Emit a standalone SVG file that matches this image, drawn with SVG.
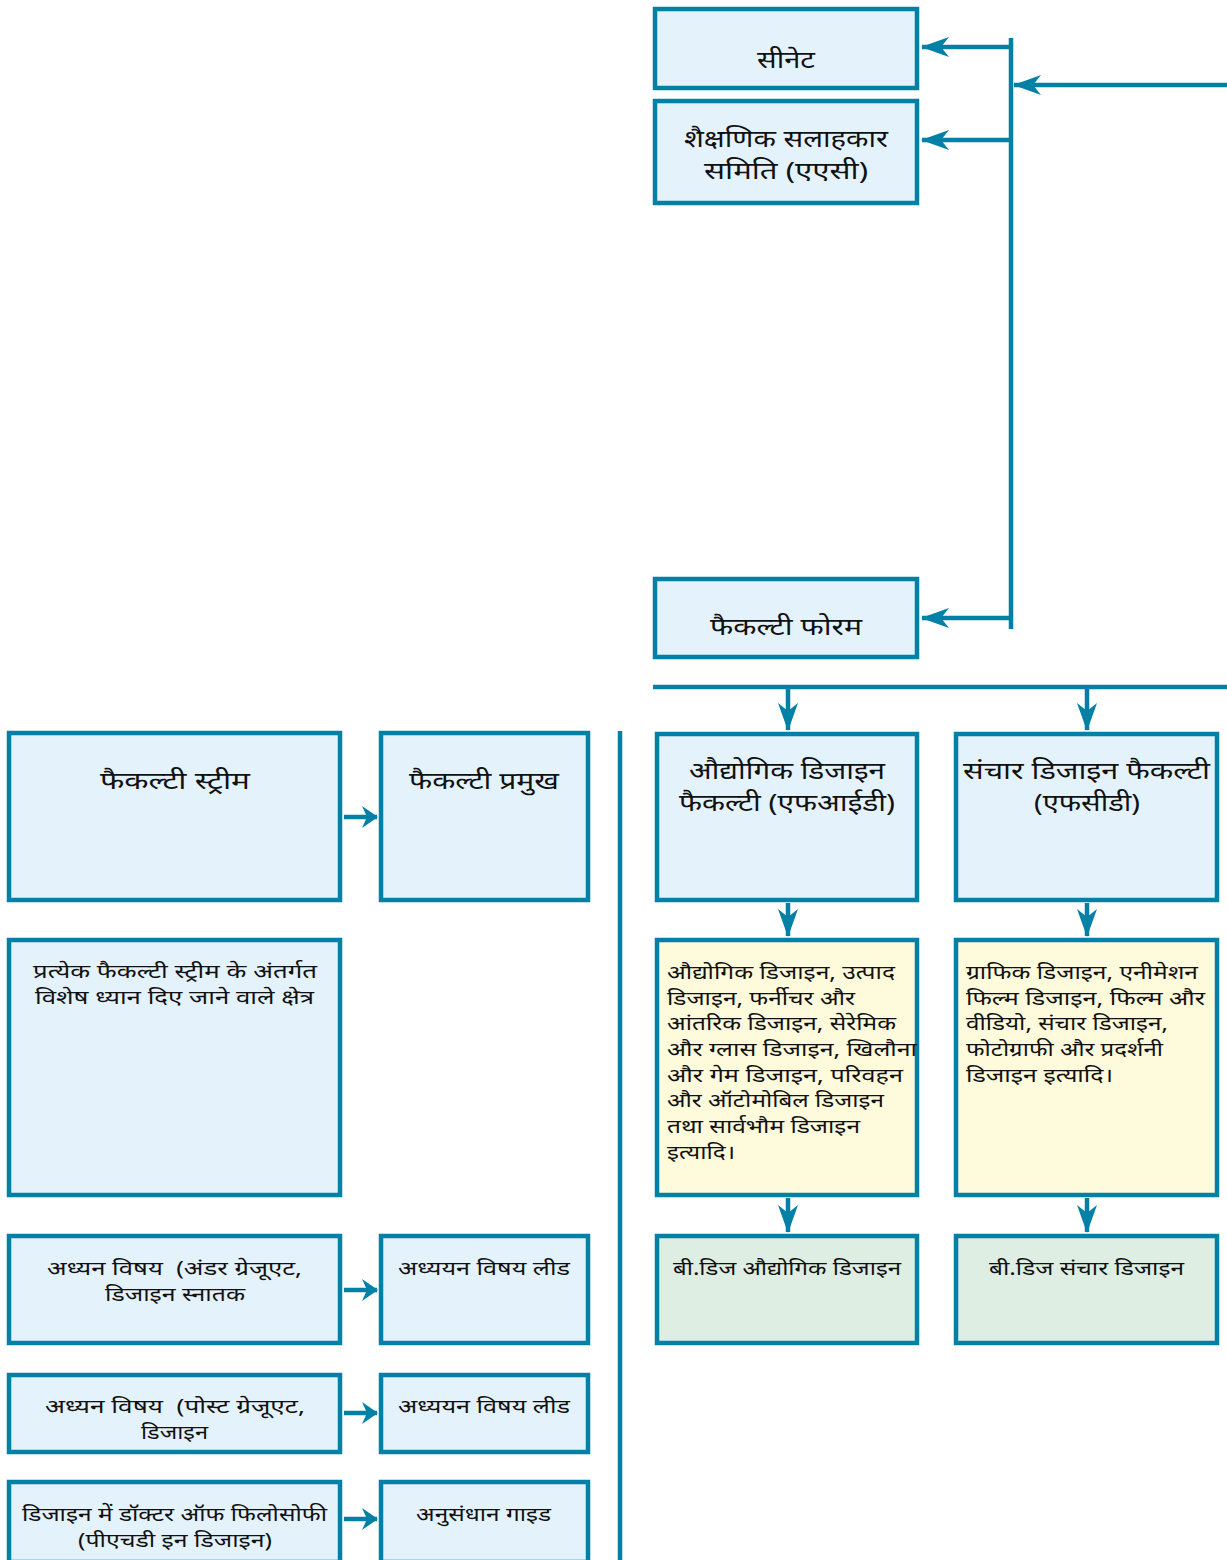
<svg xmlns="http://www.w3.org/2000/svg" width="1227" height="1560" viewBox="0 0 1227 1560">
<style>
.box{fill:#e4f2fc;stroke:#0380a6;stroke-width:4.5}
.yel{fill:#fefadc;stroke:#0380a6;stroke-width:4.5}
.grn{fill:#deeee2;stroke:#0380a6;stroke-width:4.5}
.ln{stroke:#0380a6;stroke-width:4.5;fill:none}
.t{font-family:"Noto Sans","Noto Sans Devanagari","Lohit Devanagari","FreeSans",sans-serif;fill:#111}
.h{font-size:24px;text-anchor:middle}
.s{font-size:19.5px}
.m{font-size:19.5px;text-anchor:middle}
</style>
<defs>
<marker id="ah" markerUnits="userSpaceOnUse" viewBox="0 0 28 20" refX="27" refY="10" markerWidth="28" markerHeight="20" orient="auto">
<path d="M0,0 L28,10 L0,20 L8,10 z" fill="#0380a6"/>
</marker>
<marker id="as" markerUnits="userSpaceOnUse" viewBox="0 0 16 22" refX="15" refY="11" markerWidth="16" markerHeight="22" orient="auto">
<path d="M0,0 L16,11 L0,22 L5,11 z" fill="#0380a6"/>
</marker>
</defs>

<g id="connectors">
<line class="ln" x1="1011" y1="38" x2="1011" y2="629"/>
<line class="ln" x1="1227" y1="85" x2="1014" y2="85" marker-end="url(#ah)"/>
<line class="ln" x1="1011" y1="47" x2="922" y2="47" marker-end="url(#ah)"/>
<line class="ln" x1="1011" y1="140" x2="922" y2="140" marker-end="url(#ah)"/>
<line class="ln" x1="1011" y1="618" x2="922" y2="618" marker-end="url(#ah)"/>
<line class="ln" x1="653" y1="687" x2="1227" y2="687"/>
<line class="ln" x1="788" y1="687" x2="788" y2="730" marker-end="url(#ah)"/>
<line class="ln" x1="1087" y1="687" x2="1087" y2="730" marker-end="url(#ah)"/>
<line class="ln" x1="788" y1="903" x2="788" y2="936" marker-end="url(#ah)"/>
<line class="ln" x1="1087" y1="903" x2="1087" y2="936" marker-end="url(#ah)"/>
<line class="ln" x1="788" y1="1198" x2="788" y2="1232" marker-end="url(#ah)"/>
<line class="ln" x1="1087" y1="1198" x2="1087" y2="1232" marker-end="url(#ah)"/>
<line class="ln" x1="620" y1="731" x2="620" y2="1560"/>
<line class="ln" x1="344" y1="817" x2="377" y2="817" marker-end="url(#as)"/>
<line class="ln" x1="344" y1="1290" x2="377" y2="1290" marker-end="url(#as)"/>
<line class="ln" x1="344" y1="1413" x2="377" y2="1413" marker-end="url(#as)"/>
<line class="ln" x1="344" y1="1519" x2="377" y2="1519" marker-end="url(#as)"/>
</g>

<g id="senate">
<rect class="box" x="655" y="9" width="262" height="79"/>
<text class="t h" x="786" y="68" textLength="58" lengthAdjust="spacingAndGlyphs">सीनेट</text>
</g>
<g id="aac">
<rect class="box" x="655" y="101" width="262" height="102"/>
<text class="t h" x="786" y="147" textLength="204" lengthAdjust="spacingAndGlyphs">शैक्षणिक सलाहकार</text>
<text class="t h" x="786" y="179" textLength="164" lengthAdjust="spacingAndGlyphs">समिति (एएसी)</text>
</g>
<g id="faculty-forum">
<rect class="box" x="655" y="579" width="262" height="78"/>
<text class="t h" x="786" y="635" textLength="152" lengthAdjust="spacingAndGlyphs">फैकल्टी फोरम</text>
</g>

<g id="fid">
<rect class="box" x="657" y="734" width="260" height="166"/>
<text class="t h" x="787" y="779" textLength="196" lengthAdjust="spacingAndGlyphs">औद्योगिक डिजाइन</text>
<text class="t h" x="787" y="811" textLength="216" lengthAdjust="spacingAndGlyphs">फैकल्टी (एफआईडी)</text>
</g>
<g id="fcd">
<rect class="box" x="956" y="734" width="261" height="166"/>
<text class="t h" x="1086.5" y="779" textLength="247" lengthAdjust="spacingAndGlyphs">संचार डिजाइन फैकल्टी</text>
<text class="t h" x="1087" y="811" textLength="106" lengthAdjust="spacingAndGlyphs">(एफसीडी)</text>
</g>

<g id="fid-areas">
<rect class="yel" x="657" y="940" width="260" height="255"/>
<text class="t s" x="667" y="979" textLength="228" lengthAdjust="spacingAndGlyphs">औद्योगिक डिजाइन, उत्पाद</text>
<text class="t s" x="667" y="1005" textLength="188" lengthAdjust="spacingAndGlyphs">डिजाइन, फर्नीचर और</text>
<text class="t s" x="667" y="1030" textLength="229" lengthAdjust="spacingAndGlyphs">आंतरिक डिजाइन, सेरेमिक</text>
<text class="t s" x="667" y="1056" textLength="250" lengthAdjust="spacingAndGlyphs">और ग्लास डिजाइन, खिलौना</text>
<text class="t s" x="667" y="1082" textLength="236" lengthAdjust="spacingAndGlyphs">और गेम डिजाइन, परिवहन</text>
<text class="t s" x="667" y="1107" textLength="217" lengthAdjust="spacingAndGlyphs">और ऑटोमोबिल डिजाइन</text>
<text class="t s" x="667" y="1133" textLength="193" lengthAdjust="spacingAndGlyphs">तथा सार्वभौम डिजाइन</text>
<text class="t s" x="667" y="1159" textLength="68" lengthAdjust="spacingAndGlyphs">इत्यादि।</text>
</g>
<g id="fcd-areas">
<rect class="yel" x="956" y="940" width="261" height="255"/>
<text class="t s" x="966" y="979" textLength="232" lengthAdjust="spacingAndGlyphs">ग्राफिक डिजाइन, एनीमेशन</text>
<text class="t s" x="966" y="1005" textLength="239" lengthAdjust="spacingAndGlyphs">फिल्म डिजाइन, फिल्म और</text>
<text class="t s" x="966" y="1030" textLength="202" lengthAdjust="spacingAndGlyphs">वीडियो, संचार डिजाइन,</text>
<text class="t s" x="966" y="1056" textLength="197" lengthAdjust="spacingAndGlyphs">फोटोग्राफी और प्रदर्शनी</text>
<text class="t s" x="966" y="1082" textLength="147" lengthAdjust="spacingAndGlyphs">डिजाइन इत्यादि।</text>
</g>

<g id="bdes-id">
<rect class="grn" x="657" y="1236" width="260" height="107"/>
<text class="t m" x="787" y="1275" textLength="228" lengthAdjust="spacingAndGlyphs">बी.डिज औद्योगिक डिजाइन</text>
</g>
<g id="bdes-cd">
<rect class="grn" x="956" y="1236" width="261" height="107"/>
<text class="t m" x="1086.5" y="1275" textLength="195" lengthAdjust="spacingAndGlyphs">बी.डिज संचार डिजाइन</text>
</g>

<g id="faculty-stream">
<rect class="box" x="9" y="733" width="331" height="167"/>
<text class="t h" x="175" y="789" textLength="150" lengthAdjust="spacingAndGlyphs">फैकल्टी स्ट्रीम</text>
</g>
<g id="faculty-head">
<rect class="box" x="381" y="733" width="207" height="167"/>
<text class="t h" x="484" y="789" textLength="150" lengthAdjust="spacingAndGlyphs">फैकल्टी प्रमुख</text>
</g>
<g id="focus-areas">
<rect class="box" x="9" y="940" width="331" height="255"/>
<text class="t m" x="175" y="978" textLength="284" lengthAdjust="spacingAndGlyphs">प्रत्येक फैकल्टी स्ट्रीम के अंतर्गत</text>
<text class="t m" x="174.5" y="1004" textLength="279" lengthAdjust="spacingAndGlyphs">विशेष ध्यान दिए जाने वाले क्षेत्र</text>
</g>
<g id="ug">
<rect class="box" x="9" y="1236" width="331" height="107"/>
<text class="t m" x="174.5" y="1275" textLength="255" lengthAdjust="spacingAndGlyphs" xml:space="preserve">अध्यन विषय  (अंडर ग्रेजूएट,</text>
<text class="t m" x="175" y="1301" textLength="140" lengthAdjust="spacingAndGlyphs">डिजाइन स्नातक</text>
</g>
<g id="ug-lead">
<rect class="box" x="381" y="1236" width="207" height="107"/>
<text class="t m" x="484" y="1275" textLength="172" lengthAdjust="spacingAndGlyphs">अध्ययन विषय लीड</text>
</g>
<g id="pg">
<rect class="box" x="9" y="1375" width="331" height="77"/>
<text class="t m" x="175" y="1413" textLength="260" lengthAdjust="spacingAndGlyphs" xml:space="preserve">अध्यन विषय  (पोस्ट ग्रेजूएट,</text>
<text class="t m" x="174.5" y="1439" textLength="67" lengthAdjust="spacingAndGlyphs">डिजाइन</text>
</g>
<g id="pg-lead">
<rect class="box" x="381" y="1375" width="207" height="77"/>
<text class="t m" x="484" y="1413" textLength="172" lengthAdjust="spacingAndGlyphs">अध्ययन विषय लीड</text>
</g>
<g id="phd">
<rect class="box" x="9" y="1482" width="331" height="80"/>
<text class="t m" x="174.5" y="1521" textLength="305" lengthAdjust="spacingAndGlyphs">डिजाइन में डॉक्टर ऑफ फिलोसोफी</text>
<text class="t m" x="175" y="1547" textLength="194" lengthAdjust="spacingAndGlyphs">(पीएचडी इन डिजाइन)</text>
</g>
<g id="research-guide">
<rect class="box" x="381" y="1482" width="207" height="80"/>
<text class="t m" x="483.5" y="1521" textLength="135" lengthAdjust="spacingAndGlyphs">अनुसंधान गाइड</text>
</g>
</svg>
